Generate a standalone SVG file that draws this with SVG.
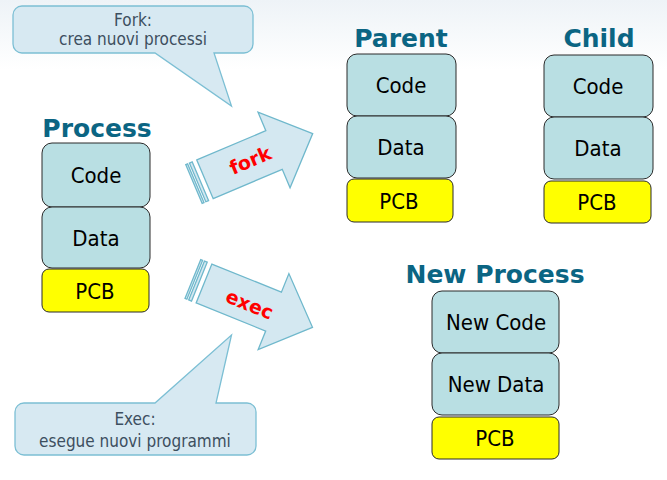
<svg xmlns="http://www.w3.org/2000/svg" width="667" height="480" viewBox="0 0 667 480">
  <defs>
    <linearGradient id="sky" x1="0" y1="0" x2="0" y2="1">
      <stop offset="0" stop-color="#eef3f7"/>
      <stop offset="1" stop-color="#ffffff"/>
    </linearGradient>
    <!-- striped block arrow, pointing along +x, centred on y=0 -->
    <g id="striped-arrow">
      <rect x="-12" y="-21" width="2" height="42"/>
      <rect x="-8" y="-21" width="3" height="42"/>
      <polygon points="0,-21 75,-21 75,-41 117,0 75,41 75,21 0,21"/>
    </g>
  </defs>
  <style>
    .title { font-family: "DejaVu Sans", Verdana, sans-serif; font-weight: bold; font-size: 25px; fill: #0b6583; text-anchor: middle; }
    .seg { fill: #b9dfe3; stroke: #2a2a2a; stroke-width: 1; }
    .pcb { fill: #ffff00; stroke: #2a2a2a; stroke-width: 1; }
    .lbl { font-family: "DejaVu Sans Condensed", "DejaVu Sans", sans-serif; font-size: 22px; fill: #000; text-anchor: middle; }
    .bubble { fill: #d7e9f2; stroke: #7cbfd4; stroke-width: 1.3; }
    .note { font-family: "DejaVu Sans Condensed", "DejaVu Sans", sans-serif; font-size: 17px; fill: #3d4f5f; text-anchor: middle; }
    .arrow { fill: #d4e8f1; stroke: #6fb8cc; stroke-width: 1.3; stroke-linejoin: miter; }
    .verb { font-family: "DejaVu Sans", Verdana, sans-serif; font-weight: bold; font-size: 19px; fill: #ff0000; text-anchor: middle; }
  </style>

  <rect width="667" height="480" fill="#ffffff"/>
  <rect width="667" height="70" fill="url(#sky)"/>

  <!-- original process -->
  <g id="process">
    <text class="title" x="97" y="137">Process</text>
    <rect class="seg" x="42" y="143" width="108" height="64" rx="10"/>
    <text class="lbl" x="96" y="183">Code</text>
    <rect class="seg" x="42" y="207" width="108" height="61" rx="10"/>
    <text class="lbl" x="96" y="246">Data</text>
    <rect class="pcb" x="42" y="269" width="107" height="43" rx="7"/>
    <text class="lbl" x="95" y="299">PCB</text>
  </g>

  <!-- parent after fork -->
  <g id="parent">
    <text class="title" x="401" y="47">Parent</text>
    <rect class="seg" x="347" y="54" width="109" height="62" rx="10"/>
    <text class="lbl" x="401" y="93">Code</text>
    <rect class="seg" x="347" y="116" width="109" height="62" rx="10"/>
    <text class="lbl" x="401" y="155">Data</text>
    <rect class="pcb" x="347" y="179" width="106" height="43" rx="7"/>
    <text class="lbl" x="399" y="209">PCB</text>
  </g>

  <!-- child after fork -->
  <g id="child">
    <text class="title" x="599" y="47">Child</text>
    <rect class="seg" x="544" y="55" width="109" height="62" rx="10"/>
    <text class="lbl" x="598" y="94">Code</text>
    <rect class="seg" x="544" y="117" width="109" height="62" rx="10"/>
    <text class="lbl" x="598" y="156">Data</text>
    <rect class="pcb" x="544" y="181" width="107" height="42" rx="7"/>
    <text class="lbl" x="597" y="210">PCB</text>
  </g>

  <!-- process after exec -->
  <g id="new-process">
    <text class="title" x="495" y="283">New Process</text>
    <rect class="seg" x="432" y="291" width="127" height="62" rx="10"/>
    <text class="lbl" x="496" y="330">New Code</text>
    <rect class="seg" x="432" y="353" width="127" height="62" rx="10"/>
    <text class="lbl" x="496" y="392">New Data</text>
    <rect class="pcb" x="432" y="417" width="127" height="42" rx="7"/>
    <text class="lbl" x="495" y="446">PCB</text>
  </g>

  <g id="connectors">
    <g id="fork-arrow" transform="translate(205,179.3) rotate(-23)">
      <use href="#striped-arrow" class="arrow"/>
      <text class="verb" x="49" y="7">fork</text>
    </g>
    <g id="exec-arrow" transform="translate(204,283.5) rotate(22)">
      <use href="#striped-arrow" class="arrow"/>
      <text class="verb" x="50" y="9">exec</text>
    </g>
  </g>

  <!-- callouts -->
  <g id="fork-note">
    <path class="bubble" d="M22,6 H244 A9,9 0 0 1 253,15 V44 A9,9 0 0 1 244,53 H214 L231.5,106 L155,53 H22 A9,9 0 0 1 13,44 V15 A9,9 0 0 1 22,6 Z"/>
    <text class="note" x="133" y="25.5">Fork:</text>
    <text class="note" x="133" y="45">crea nuovi processi</text>
  </g>
  <g id="exec-note">
    <path class="bubble" d="M24,403 H155 L231.5,335 L216,403 H247 A9,9 0 0 1 256,412 V446 A9,9 0 0 1 247,455 H24 A9,9 0 0 1 15,446 V412 A9,9 0 0 1 24,403 Z"/>
    <text class="note" x="135" y="425">Exec:</text>
    <text class="note" x="135" y="447">esegue nuovi programmi</text>
  </g>
</svg>
